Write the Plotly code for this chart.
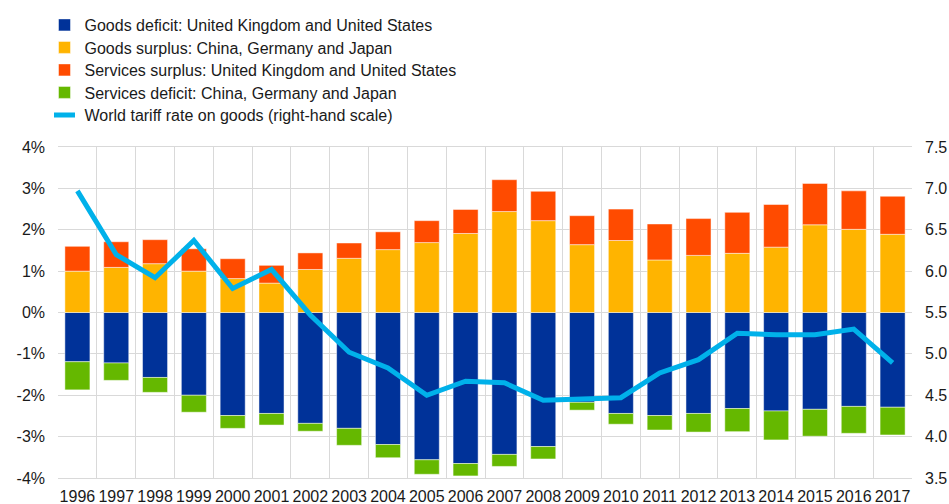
import plotly.graph_objects as go

years = [str(y) for y in range(1996, 2018)]

goods_deficit = [-1.19, -1.22, -1.57, -2.00, -2.49, -2.44, -2.68, -2.80, -3.19, -3.56, -3.65,
                 -3.43, -3.24, -2.17, -2.44, -2.49, -2.44, -2.32, -2.38, -2.34, -2.27, -2.29]
goods_surplus = [1.00, 1.09, 1.18, 1.00, 0.82, 0.71, 1.04, 1.31, 1.52, 1.69, 1.91,
                 2.44, 2.22, 1.64, 1.74, 1.27, 1.38, 1.43, 1.58, 2.12, 2.01, 1.89]
services_surplus = [0.60, 0.62, 0.58, 0.54, 0.48, 0.43, 0.40, 0.37, 0.43, 0.53, 0.58,
                    0.77, 0.71, 0.70, 0.76, 0.87, 0.89, 0.99, 1.03, 1.00, 0.93, 0.92]
services_deficit = [-0.68, -0.42, -0.36, -0.41, -0.31, -0.28, -0.19, -0.41, -0.32, -0.35, -0.30,
                    -0.29, -0.30, -0.19, -0.26, -0.35, -0.45, -0.56, -0.70, -0.65, -0.65, -0.67]
tariff = [6.97, 6.20, 5.92, 6.37, 5.79, 6.02, 5.47, 5.02, 4.83, 4.50, 4.67,
          4.65, 4.44, 4.45, 4.47, 4.77, 4.93, 5.25, 5.23, 5.23, 5.30, 4.89]

left_ticks = [-4, -3, -2, -1, 0, 1, 2, 3, 4]
left_labels = [f"{v}%" for v in left_ticks]
right_ticks = [3.5, 4.0, 4.5, 5.0, 5.5, 6.0, 6.5, 7.0, 7.5]
right_labels = [f"{v:.1f}" for v in right_ticks]

FONT = "Liberation Sans, Arial, sans-serif"
edge = dict(width=0.6, color="rgba(255,255,255,0.8)")
TARIFF_NAME = "World tariff rate on goods (right-hand scale)"

fig = go.Figure()
fig.add_trace(go.Bar(x=years, y=goods_deficit, name="Goods deficit: United Kingdom and United States",
                     marker=dict(color="#003299", line=edge), legend="legend"))
fig.add_trace(go.Bar(x=years, y=goods_surplus, name="Goods surplus: China, Germany and Japan",
                     marker=dict(color="#FFB400", line=edge), legend="legend2"))
fig.add_trace(go.Bar(x=years, y=services_surplus, name="Services surplus: United Kingdom and United States",
                     marker=dict(color="#FF4B00", line=edge), legend="legend3"))
fig.add_trace(go.Bar(x=years, y=services_deficit, name="Services deficit: China, Germany and Japan",
                     marker=dict(color="#65B800", line=edge), legend="legend4"))
fig.add_trace(go.Scatter(x=years, y=tariff, name=TARIFF_NAME, showlegend=False,
                         mode="lines", line=dict(color="#00B1EA", width=5), yaxis="y2"))
# legend key for the line (short thick dash, as in the reference)
fig.add_trace(go.Scatter(x=[None], y=[None], name=TARIFF_NAME, mode="markers", yaxis="y2",
                         legend="legend5",
                         marker=dict(symbol="line-ew", size=15,
                                     line=dict(color="#00B1EA", width=5))))


def leg(yc):
    return dict(x=44.5 / 949, xref="container", y=1 - yc / 504, yref="container",
                xanchor="left", yanchor="middle", font=dict(size=16, color="#1a1a1a"),
                bgcolor="rgba(0,0,0,0)", itemwidth=30)


legend_centres = [25, 47.5, 70, 92.5, 115]

fig.update_layout(
    width=949, height=504,
    template="none",
    barmode="relative",
    bargap=0.355,
    paper_bgcolor="white", plot_bgcolor="white",
    font=dict(family=FONT, size=16, color="#1a1a1a"),
    margin=dict(l=58, r=37, t=147, b=26, autoexpand=False),
    showlegend=True,
    legend=leg(legend_centres[0]),
    legend2=leg(legend_centres[1]),
    legend3=leg(legend_centres[2]),
    legend4=leg(legend_centres[3]),
    legend5=leg(legend_centres[4]),
    xaxis=dict(type="category", tickson="boundaries", showgrid=True, gridcolor="#d9d9d9",
               gridwidth=1, ticks="", showline=True, linecolor="#d9d9d9", mirror=True,
               tickangle=0, tickfont=dict(size=16), automargin=False, ticklabelstandoff=4),
    yaxis=dict(range=[-4, 4], tickvals=left_ticks, ticktext=left_labels, showgrid=True,
               gridcolor="#d9d9d9", gridwidth=1, zeroline=False, ticks="",
               showline=False, automargin=False, ticklabelstandoff=12, tickfont=dict(size=16)),
    yaxis2=dict(range=[3.5, 7.5], tickvals=right_ticks, ticktext=right_labels, overlaying="y",
                side="right", showgrid=False, zeroline=False, ticks="", showline=False,
                automargin=False, ticklabelstandoff=12, tickfont=dict(size=16)),
)
fig.write_html(
    "out.html",
    config={"displayModeBar": False},
    post_script="document.body.style.margin='0';"
                "document.documentElement.style.overflow='hidden';"
                "document.body.style.overflow='hidden';",
)
